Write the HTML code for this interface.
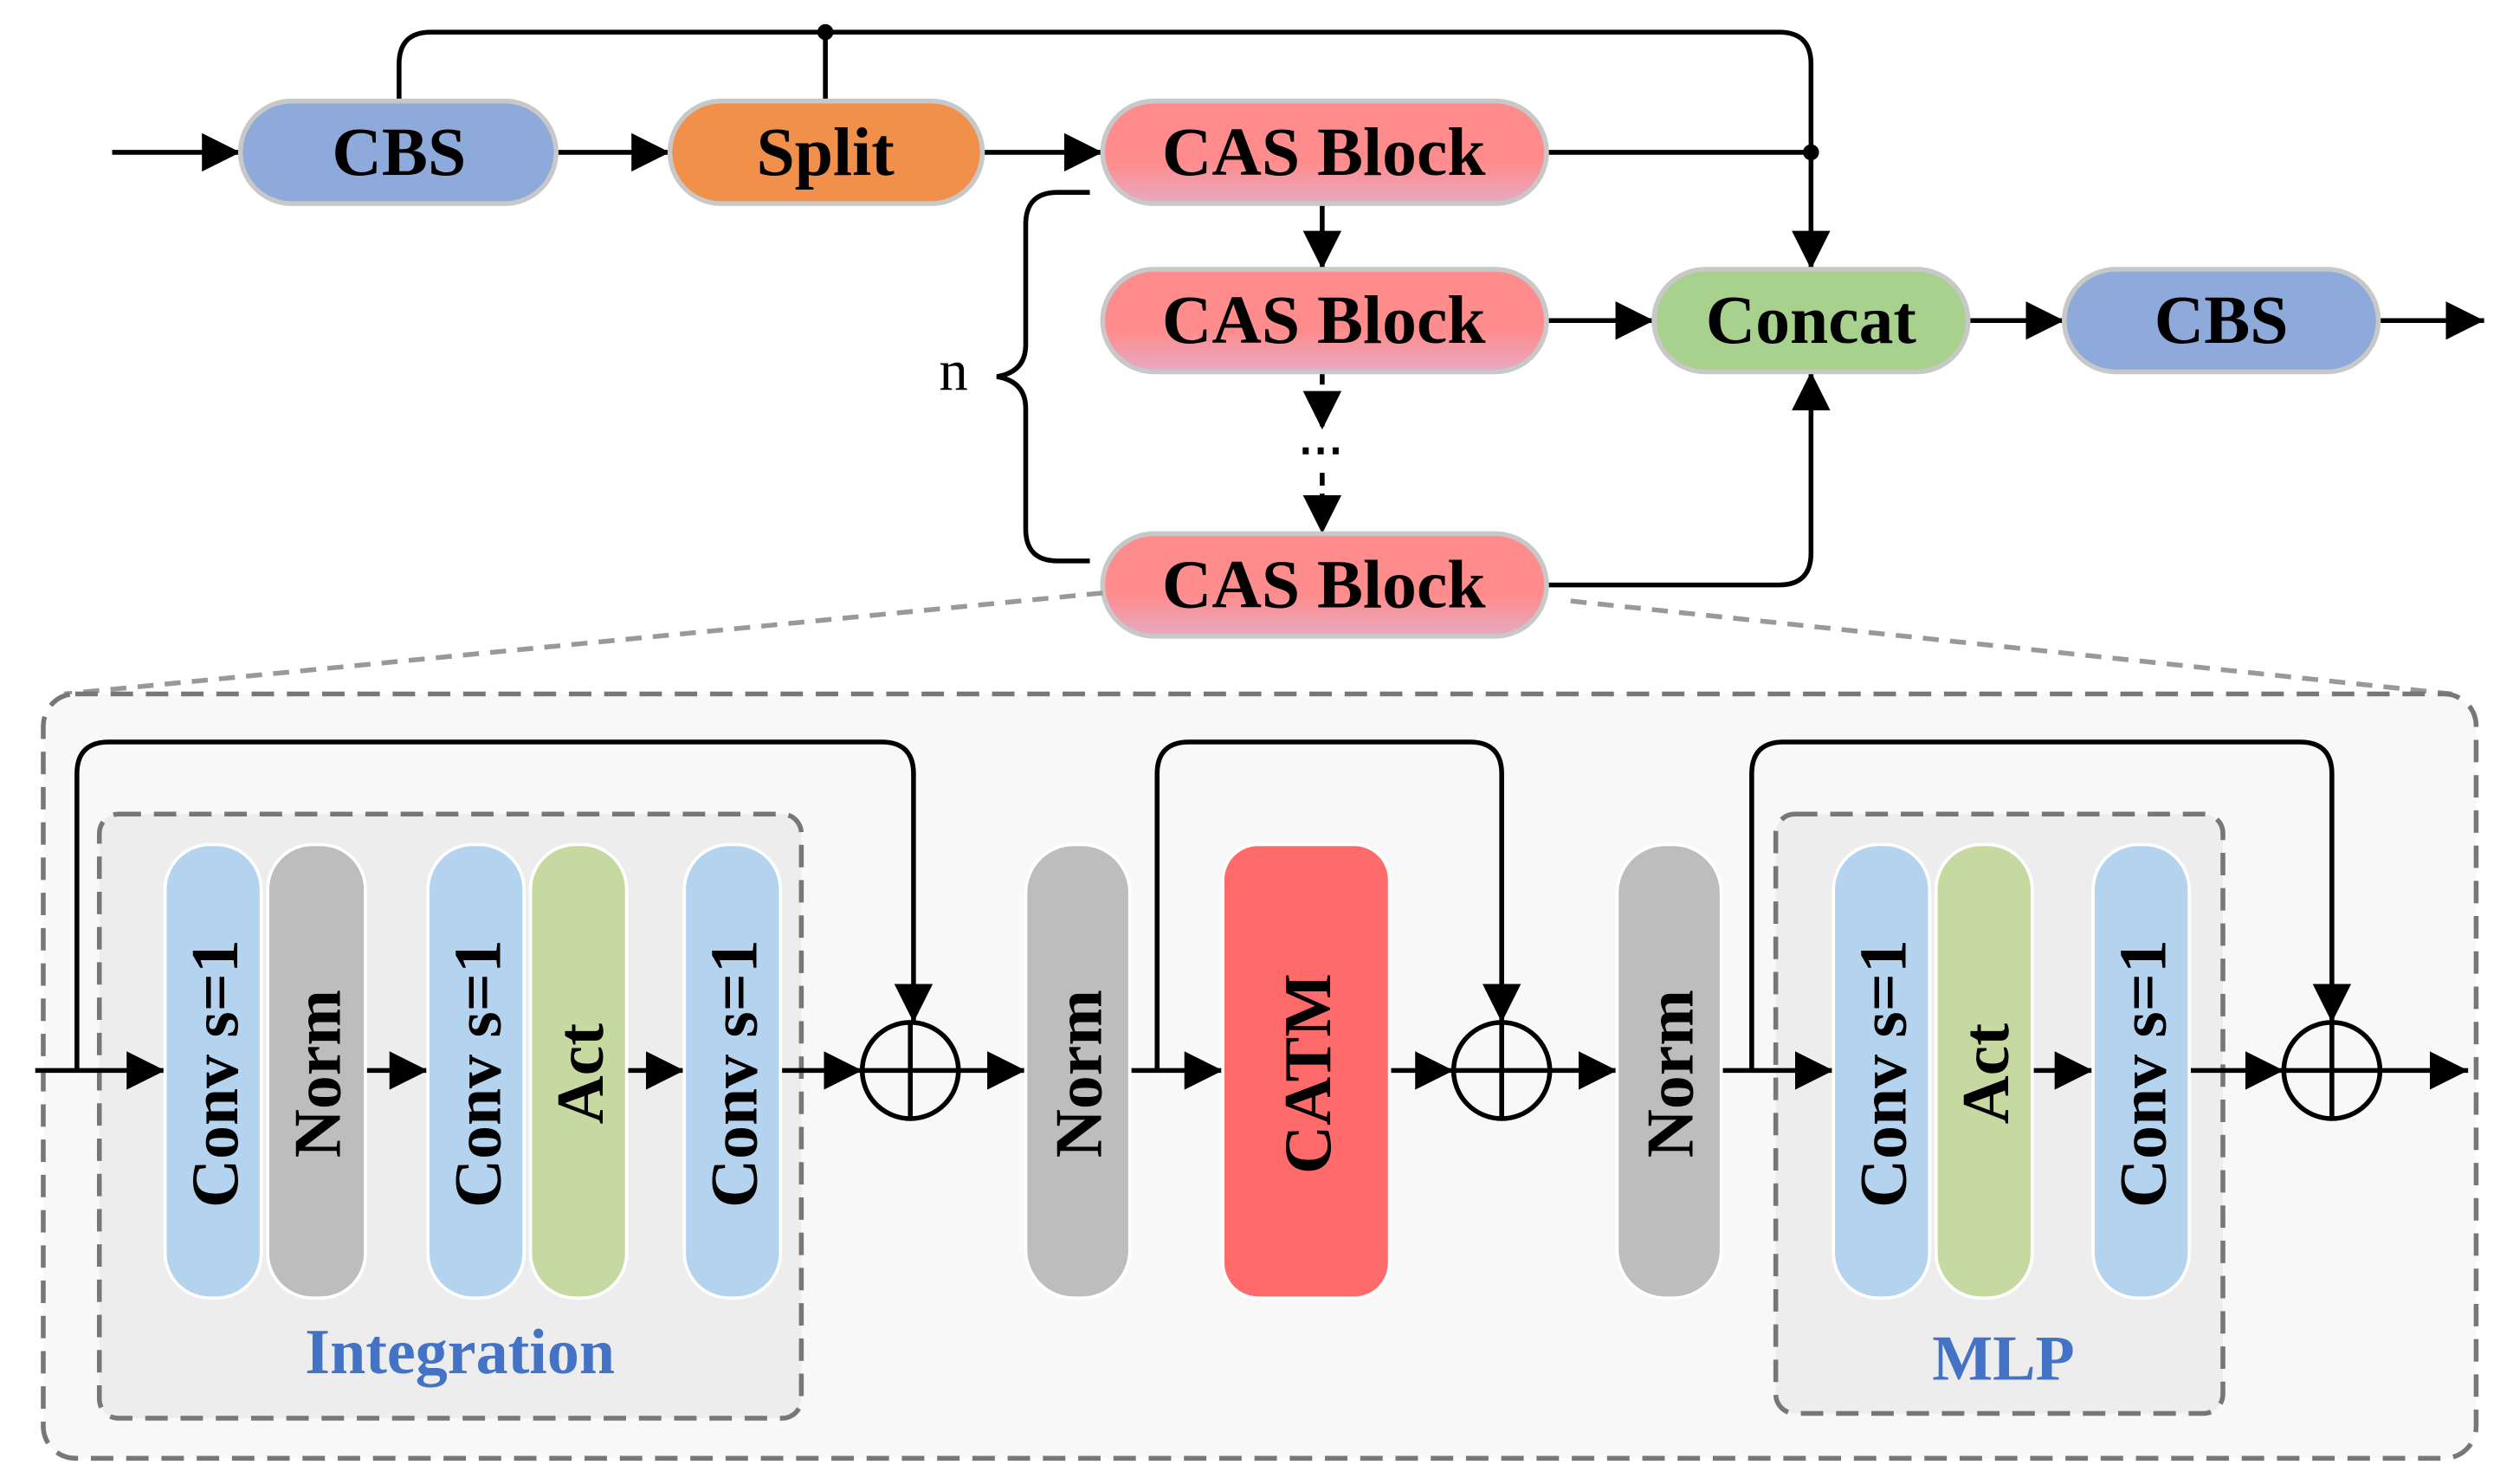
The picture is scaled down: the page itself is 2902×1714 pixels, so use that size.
<!DOCTYPE html>
<html><head><meta charset="utf-8"><style>html,body{margin:0;padding:0;background:#fff}svg{display:block}</style></head><body>
<svg width="2902" height="1714" viewBox="0 0 1568 926" xmlns="http://www.w3.org/2000/svg" font-family="Liberation Serif, serif" font-weight="bold">
<defs>
<marker id="ah" viewBox="0 0 10 10" refX="10" refY="5" markerWidth="24" markerHeight="24" orient="auto" markerUnits="userSpaceOnUse"><path d="M0,0 L10,5 L0,10 z" fill="#000"/></marker>
<linearGradient id="cas" x1="0" y1="0" x2="0" y2="1"><stop offset="0.6" stop-color="#ff8c8c"/><stop offset="1" stop-color="#e6aac4"/></linearGradient>
</defs>
<g stroke="#000" stroke-width="3" fill="none">
<line x1="70" y1="95" x2="150" y2="95" marker-end="url(#ah)"/>
<line x1="347" y1="95" x2="418" y2="95" marker-end="url(#ah)"/>
<line x1="613" y1="95" x2="688" y2="95" marker-end="url(#ah)"/>
<path d="M249,63 V40 Q249,20 269,20 H1110 Q1130,20 1130,40 V168" marker-end="url(#ah)"/>
<line x1="515" y1="20" x2="515" y2="63"/>
<line x1="965" y1="95" x2="1130" y2="95"/>
<line x1="825" y1="127" x2="825" y2="168" marker-end="url(#ah)"/>
<line x1="965" y1="200" x2="1032" y2="200" marker-end="url(#ah)"/>
<line x1="1228" y1="200" x2="1288" y2="200" marker-end="url(#ah)"/>
<line x1="1484" y1="200" x2="1550" y2="200" marker-end="url(#ah)"/>
<line x1="825" y1="232" x2="825" y2="268" stroke-dasharray="8,5" marker-end="url(#ah)"/>
<line x1="825" y1="295" x2="825" y2="333" stroke-dasharray="8,5" marker-end="url(#ah)"/>
<path d="M965,365 H1110 Q1130,365 1130,345 V232" marker-end="url(#ah)"/>
<path d="M680,120 H660 Q640,120 640,140 V215 Q640,232 622,235 Q640,238 640,255 V330 Q640,350 660,350 H680"/>
</g>
<circle cx="515" cy="20" r="5"/><circle cx="1130" cy="95" r="5"/>
<text x="810" y="290" font-size="28">⋯</text>
<text x="595" y="243" font-size="36" font-weight="normal" text-anchor="middle">n</text>
<g stroke="#c8c8c8" stroke-width="3">
<rect x="150" y="63" width="197" height="64" rx="32" fill="#8eaadb"/>
<rect x="418" y="63" width="195" height="64" rx="32" fill="#f0904a"/>
<rect x="688" y="63" width="277" height="64" rx="32" fill="url(#cas)"/>
<rect x="688" y="168" width="277" height="64" rx="32" fill="url(#cas)"/>
<rect x="688" y="333" width="277" height="64" rx="32" fill="url(#cas)"/>
<rect x="1032" y="168" width="196" height="64" rx="32" fill="#a9d18e"/>
<rect x="1288" y="168" width="196" height="64" rx="32" fill="#8eaadb"/>
</g>
<g font-size="43" text-anchor="middle">
<text x="249" y="109">CBS</text><text x="515" y="109">Split</text>
<text x="826" y="109">CAS Block</text><text x="826" y="214">CAS Block</text><text x="826" y="379">CAS Block</text>
<text x="1130" y="214">Concat</text><text x="1386" y="214">CBS</text>
</g>
<g stroke="#999" stroke-width="3" stroke-dasharray="10,7" fill="none">
<line x1="688" y1="370" x2="40" y2="433"/><line x1="980" y1="375" x2="1530" y2="433"/>
</g>
<rect x="27" y="433" width="1518" height="477" rx="20" fill="#f8f8f8" stroke="#777" stroke-width="3" stroke-dasharray="14,8"/>
<rect x="62" y="508" width="438" height="377" rx="12" fill="#ededed" stroke="#777" stroke-width="3" stroke-dasharray="14,8"/>
<rect x="1108" y="508" width="279" height="374" rx="12" fill="#ededed" stroke="#777" stroke-width="3" stroke-dasharray="14,8"/>
<g stroke="#000" stroke-width="3" fill="none">
<line x1="22" y1="668" x2="103" y2="668" marker-end="url(#ah)"/>
<path d="M48,668 V483 Q48,463 68,463 H550 Q570,463 570,483 V638" marker-end="url(#ah)"/>
<line x1="228" y1="668" x2="267" y2="668" marker-end="url(#ah)"/>
<line x1="391" y1="668" x2="427" y2="668" marker-end="url(#ah)"/>
<line x1="487" y1="668" x2="538" y2="668" marker-end="url(#ah)"/>
<line x1="598" y1="668" x2="640" y2="668" marker-end="url(#ah)"/>
<line x1="705" y1="668" x2="763" y2="668" marker-end="url(#ah)"/>
<path d="M722,668 V483 Q722,463 742,463 H917 Q937,463 937,483 V638" marker-end="url(#ah)"/>
<line x1="867" y1="668" x2="907" y2="668" marker-end="url(#ah)"/>
<line x1="967" y1="668" x2="1009" y2="668" marker-end="url(#ah)"/>
<line x1="1074" y1="668" x2="1144" y2="668" marker-end="url(#ah)"/>
<path d="M1093,668 V483 Q1093,463 1113,463 H1435 Q1455,463 1455,483 V638" marker-end="url(#ah)"/>
<line x1="1268" y1="668" x2="1306" y2="668" marker-end="url(#ah)"/>
<line x1="1366" y1="668" x2="1425" y2="668" marker-end="url(#ah)"/>
<line x1="1485" y1="668" x2="1540" y2="668" marker-end="url(#ah)"/>
<circle cx="568" cy="668" r="30"/><line x1="538" y1="668" x2="598" y2="668"/><line x1="568" y1="638" x2="568" y2="698"/>
<circle cx="937" cy="668" r="30"/><line x1="907" y1="668" x2="967" y2="668"/><line x1="937" y1="638" x2="937" y2="698"/>
<circle cx="1455" cy="668" r="30"/><line x1="1425" y1="668" x2="1485" y2="668"/><line x1="1455" y1="638" x2="1455" y2="698"/>
</g>
<g stroke="#fff" stroke-width="2">
<rect x="103" y="527" width="60" height="283" rx="28" fill="#b4d3ee"/>
<rect x="167" y="527" width="61" height="283" rx="28" fill="#bdbdbd"/>
<rect x="267" y="527" width="60" height="283" rx="28" fill="#b4d3ee"/>
<rect x="331" y="527" width="60" height="283" rx="28" fill="#c5d9a0"/>
<rect x="427" y="527" width="60" height="283" rx="28" fill="#b4d3ee"/>
<rect x="640" y="527" width="65" height="283" rx="30" fill="#bdbdbd"/>
<rect x="763" y="527" width="104" height="283" rx="22" fill="#ff6b6b"/>
<rect x="1009" y="527" width="65" height="283" rx="30" fill="#bdbdbd"/>
<rect x="1144" y="527" width="60" height="283" rx="28" fill="#b4d3ee"/>
<rect x="1208" y="527" width="60" height="283" rx="28" fill="#c5d9a0"/>
<rect x="1306" y="527" width="60" height="283" rx="28" fill="#b4d3ee"/>
</g>
<g font-size="42" text-anchor="middle">
<text transform="translate(148,670) rotate(-90)">Conv s=1</text>
<text transform="translate(212,670) rotate(-90)">Norm</text>
<text transform="translate(312,670) rotate(-90)">Conv s=1</text>
<text transform="translate(376,670) rotate(-90)">Act</text>
<text transform="translate(472,670) rotate(-90)">Conv s=1</text>
<text transform="translate(687,670) rotate(-90)">Norm</text>
<text transform="translate(830,670) rotate(-90)">CATM</text>
<text transform="translate(1056,670) rotate(-90)">Norm</text>
<text transform="translate(1189,670) rotate(-90)">Conv s=1</text>
<text transform="translate(1253,670) rotate(-90)">Act</text>
<text transform="translate(1351,670) rotate(-90)">Conv s=1</text>
</g>
<g font-size="40" text-anchor="middle" fill="#4472c4">
<text x="287" y="857">Integration</text>
<text x="1250" y="861">MLP</text>
</g>
</svg>
</body></html>
